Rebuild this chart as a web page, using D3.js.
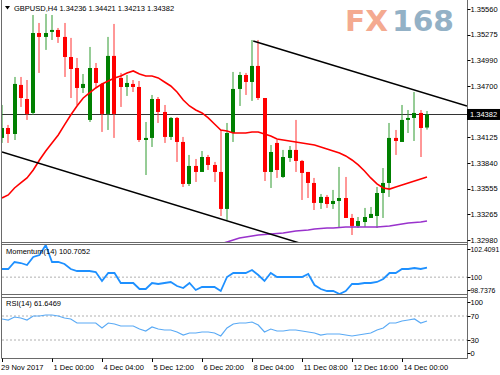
<!DOCTYPE html>
<html>
<head>
<meta charset="utf-8">
<script src="https://cdn.jsdelivr.net/npm/d3@7"></script>
<style>
  html, body { margin: 0; padding: 0; background: #fff; }
  svg { display: block; font-family: "Liberation Sans", Arial, sans-serif; }
</style>
</head>
<body>
<div id="chart"></div>
<script>
// GBPUSD H4 – OHLC, bar 0 = 29 Nov 16:00
const openP  = [1.34120,1.34231,1.34164,1.34712,1.34555,1.34399,1.35292,1.35248,1.35304,1.35326,
                1.35248,1.35024,1.34901,1.34678,1.34321,1.34901,1.34723,1.34388,1.35036,1.34790,
                1.34689,1.34723,1.34689,1.34097,1.34120,1.34555,1.34410,1.34131,1.34343,1.34075,
                1.33606,1.33807,1.33740,1.33907,1.33818,1.33740,1.33327,1.34175,1.34667,1.34823,
                1.34745,1.34924,1.34566,1.33740,1.34064,1.33684,1.33896,1.33986,1.33863,1.33740,
                1.33617,1.33394,1.33461,1.33382,1.33416,1.33449,1.33226,1.33137,1.33181,1.33226,
                1.33248,1.33505,1.33617,1.34120,1.34075,1.34321,1.34343,1.34399,1.34236];
const highP  = [1.34488,1.34265,1.34801,1.34801,1.34767,1.35493,1.35404,1.35505,1.35493,1.35348,
                1.35404,1.35237,1.35013,1.34834,1.35136,1.34957,1.34734,1.35248,1.35393,1.34846,
                1.34823,1.34767,1.34756,1.34298,1.34600,1.34577,1.34488,1.34354,1.34354,1.34131,
                1.33930,1.33885,1.33974,1.33930,1.33852,1.34209,1.34287,1.34857,1.34857,1.34846,
                1.35214,1.35214,1.34566,1.34041,1.34097,1.33986,1.34030,1.34321,1.33874,1.33740,
                1.33673,1.33494,1.33483,1.33539,1.33796,1.33684,1.33271,1.33237,1.33338,1.33349,
                1.33572,1.33784,1.34287,1.34209,1.34488,1.34432,1.34633,1.34432,1.34421];
const lowP   = [1.34064,1.34064,1.34097,1.34466,1.34321,1.34376,1.34846,1.35103,1.35214,1.35181,
                1.34801,1.34566,1.34488,1.34622,1.34298,1.34678,1.34187,1.34209,1.34120,1.34466,
                1.34589,1.34633,1.34075,1.33706,1.34019,1.34287,1.34064,1.34097,1.33852,1.33572,
                1.33583,1.33628,1.33740,1.33762,1.33628,1.33248,1.33204,1.34075,1.34477,1.34600,
                1.34533,1.34544,1.33639,1.33561,1.33673,1.33673,1.33852,1.33740,1.33427,1.33449,
                1.33315,1.33327,1.33338,1.33327,1.33114,1.33226,1.33036,1.33114,1.33125,1.33226,
                1.33114,1.33226,1.33461,1.33930,1.34075,1.34175,1.34086,1.33907,1.34213];
const closeP = [1.34231,1.34164,1.34723,1.34566,1.34388,1.35292,1.35248,1.35292,1.35326,1.35248,
                1.35024,1.34890,1.34678,1.34723,1.34901,1.34734,1.34388,1.35036,1.34388,1.34689,
                1.34734,1.34689,1.34097,1.34120,1.34555,1.34410,1.34131,1.34343,1.34075,1.33606,
                1.33807,1.33740,1.33907,1.33818,1.33740,1.33327,1.34175,1.34667,1.34823,1.34745,
                1.34924,1.34566,1.33740,1.33963,1.33762,1.33907,1.33986,1.33863,1.33729,1.33617,
                1.33394,1.33461,1.33382,1.33416,1.33449,1.33226,1.33137,1.33192,1.33237,1.33271,
                1.33505,1.33617,1.34120,1.34086,1.34321,1.34343,1.34399,1.34231,1.34382];

// fast (red) and slow (purple) moving averages
const maFast = [1.33449,1.33483,1.33561,1.33617,1.33673,1.33762,1.33874,1.33974,1.34064,1.34153,
                1.34265,1.34376,1.34477,1.34566,1.34622,1.34678,1.34723,1.34756,1.34790,1.34812,
                1.34846,1.34868,1.34834,1.34812,1.34812,1.34790,1.34745,1.34700,1.34633,1.34544,
                1.34477,1.34432,1.34399,1.34343,1.34276,1.34209,1.34198,1.34175,1.34175,1.34175,
                1.34187,1.34187,1.34164,1.34142,1.34108,1.34097,1.34086,1.34075,1.34064,1.34053,
                1.34041,1.34019,1.33997,1.33974,1.33952,1.33919,1.33874,1.33818,1.33751,1.33673,
                1.33606,1.33561,1.33549,1.33572,1.33594,1.33617,1.33639,1.33662,1.33684];
const maSlowStart = 35;
const maSlow = [1.32936,1.32958,1.32980,1.33003,1.33014,1.33025,1.33036,1.33042,1.33047,1.33053,
                1.33058,1.33070,1.33081,1.33086,1.33092,1.33103,1.33109,1.33114,1.33114,1.33120,
                1.33125,1.33125,1.33125,1.33125,1.33125,1.33125,1.33131,1.33137,1.33148,1.33159,
                1.33170,1.33176,1.33181,1.33192];

// trend lines (bar index, price)
const upperTrend = [[40.2, 1.35203], [74.4, 1.34477]];
const lowerTrend = [[0, 1.33963], [48, 1.32938]];

const momentum = [100.611,100.611,101.135,101.060,100.910,101.510,101.660,102.409,101.135,101.135,
                  100.985,100.611,100.461,100.461,100.461,100.386,99.712,100.311,100.311,99.562,
                  99.562,99.562,99.112,99.112,99.562,99.487,99.562,99.637,99.337,99.187,
                  99.562,99.037,99.262,99.262,99.262,98.962,100.011,100.311,100.311,100.311,
                  100.536,100.161,99.712,100.311,100.011,100.011,100.011,100.011,100.011,100.236,
                  99.412,99.112,98.962,98.962,98.738,98.962,99.487,99.487,99.562,99.562,
                  99.637,99.862,100.311,100.311,100.611,100.611,100.686,100.611,100.7052];
const rsi = [65.0,63.3,68.3,66.7,63.3,70.0,70.0,71.7,71.7,70.0,
             66.7,65.0,58.3,58.3,58.3,58.3,50.0,58.3,56.7,53.3,
             53.3,53.3,48.3,45.0,51.7,48.3,46.7,46.7,43.3,38.3,
             41.7,41.7,43.3,43.3,41.7,36.7,50.0,56.7,58.3,58.3,
             60.0,55.0,43.3,48.3,45.0,45.0,46.7,46.7,45.0,43.3,
             41.7,38.3,40.0,40.0,40.0,38.3,36.7,38.3,40.0,41.7,
             46.7,50.0,58.3,58.3,61.7,63.3,65.0,58.3,61.6469];

const priceTicks = [1.35560,1.35275,1.34990,1.34700,1.34415,1.34125,1.33840,1.33555,1.33265,1.32980];
const momTicks = [102.4091, 100, 98.7376];
const rsiTicks = [100, 70, 30, 0];
const timeLabels = ['29 Nov 2017','1 Dec 00:00','4 Dec 04:00','5 Dec 12:00','6 Dec 20:00',
                    '8 Dec 04:00','11 Dec 08:00','12 Dec 16:00','14 Dec 00:00'];
const lastPrice = 1.34382;

/* ─── scaffold ───────────────────────────────────────────── */
const svg = d3.select('#chart').append('svg').attr('width', 500).attr('height', 375);
const L = 2, R = 467;
const x = d3.scaleLinear().domain([0, 74.4]).range([L, R]);
const y = d3.scaleLinear().domain([1.32980, 1.35560]).range([240, 9]);
const yMom = d3.scaleLinear().domain([98.7376, 102.4091]).range([294, 245]);
const yRsi = d3.scaleLinear().domain([0, 100]).range([358, 298]);

const defs = svg.append('defs');
[['clipMain', 0, 242], ['clipMom', 245, 294], ['clipRsi', 298, 358]].forEach(([id, y0, y1]) => {
  defs.append('clipPath').attr('id', id).append('rect')
    .attr('x', L).attr('y', y0).attr('width', R - L).attr('height', y1 - y0);
});

/* ─── watermark ──────────────────────────────────────────── */
const wm = svg.append('g').attr('font-family', '"DejaVu Sans", sans-serif').attr('font-weight', 'bold')
  .attr('font-size', 29);
wm.append('text').attr('x', 345).attr('y', 31).attr('fill', '#f4aa90')
  .attr('textLength', 43).attr('lengthAdjust', 'spacingAndGlyphs').text('FX');
wm.append('text').attr('x', 392).attr('y', 31).attr('fill', '#93b1c6')
  .attr('textLength', 62).attr('lengthAdjust', 'spacingAndGlyphs').text('168');

/* ─── main pane ──────────────────────────────────────────── */
const main = svg.append('g').attr('clip-path', 'url(#clipMain)');
const bars = d3.range(closeP.length);
const up = i => closeP[i] >= openP[i];

main.append('line')
  .attr('x1', L).attr('x2', R)
  .attr('y1', Math.round(y(lastPrice)) + 0.5).attr('y2', Math.round(y(lastPrice)) + 0.5)
  .attr('stroke', '#333').attr('stroke-width', 1);

main.append('g').selectAll('line').data(bars).join('line')
  .attr('x1', i => Math.round(x(i))).attr('x2', i => Math.round(x(i)))
  .attr('y1', i => y(highP[i])).attr('y2', i => y(lowP[i]))
  .attr('stroke', i => up(i) ? '#2e9a2e' : '#ff3030').attr('stroke-width', 1);

main.append('g').selectAll('rect').data(bars).join('rect')
  .attr('x', i => Math.round(x(i)) - 2)
  .attr('width', 4)
  .attr('y', i => y(Math.max(openP[i], closeP[i])))
  .attr('height', i => Math.max(1.2, Math.abs(y(openP[i]) - y(closeP[i]))))
  .attr('fill', i => up(i) ? '#008000' : '#ff0000');

const line = d3.line().x(d => x(d[0])).y(d => y(d[1]));
main.append('path').datum(maFast.map((v, i) => [i, v]))
  .attr('d', line).attr('fill', 'none').attr('stroke', '#ff0000').attr('stroke-width', 1.6);
main.append('path').datum(maSlow.map((v, i) => [i + maSlowStart, v]))
  .attr('d', line).attr('fill', 'none').attr('stroke', '#9932cc').attr('stroke-width', 1.6);
[upperTrend, lowerTrend].forEach(t => {
  main.append('path').datum(t).attr('d', line)
    .attr('fill', 'none').attr('stroke', '#000').attr('stroke-width', 1.5);
});

/* ─── momentum pane ─────────────────────────────────────── */
const mom = svg.append('g').attr('clip-path', 'url(#clipMom)');
mom.append('line').attr('x1', L).attr('x2', R)
  .attr('y1', yMom(100)).attr('y2', yMom(100))
  .attr('stroke', '#b0b0b0').attr('stroke-dasharray', '2,2');
mom.append('path').datum(momentum.map((v, i) => [i, v]))
  .attr('d', d3.line().x(d => x(d[0])).y(d => yMom(d[1])))
  .attr('fill', 'none').attr('stroke', '#1e90ff').attr('stroke-width', 1.8);

/* ─── RSI pane ──────────────────────────────────────────── */
const rs = svg.append('g').attr('clip-path', 'url(#clipRsi)');
[70, 30].forEach(v => {
  rs.append('line').attr('x1', L).attr('x2', R)
    .attr('y1', yRsi(v)).attr('y2', yRsi(v))
    .attr('stroke', '#b0b0b0').attr('stroke-dasharray', '2,2');
});
rs.append('path').datum(rsi.map((v, i) => [i, v]))
  .attr('d', d3.line().x(d => x(d[0])).y(d => yRsi(d[1])))
  .attr('fill', 'none').attr('stroke', '#5aaaf5').attr('stroke-width', 1.2);

/* ─── frames ────────────────────────────────────────────── */
const frame = svg.append('g').attr('stroke', '#6a6a6a').attr('stroke-width', 1).attr('fill', 'none');
[242.5, 244.5, 294.5, 297.5, 358.5].forEach(v => {
  frame.append('line').attr('x1', 1.5).attr('x2', R + 0.5).attr('y1', v).attr('y2', v);
});
frame.append('line').attr('x1', 1.5).attr('x2', 1.5).attr('y1', 0).attr('y2', 358.5);
frame.append('line').attr('x1', R + 0.5).attr('x2', R + 0.5).attr('y1', 0).attr('y2', 358.5);

/* ─── right axes ───────────────────────────────────────── */
const axisG = svg.append('g').attr('font-size', 7.5).attr('fill', '#000');
function sideLabels(ticks, scale, fmt, clampTop, clampBot, size) {
  ticks.forEach(v => {
    const yy = Math.min(clampBot, Math.max(clampTop, scale(v)));
    axisG.append('line').attr('x1', R + 0.5).attr('x2', R + 3.5)
      .attr('y1', Math.round(yy) + 0.5).attr('y2', Math.round(yy) + 0.5)
      .attr('stroke', '#000');
    axisG.append('text').attr('x', 470.5).attr('y', yy + 2.7)
      .attr('font-size', size).text(fmt(v));
  });
}
sideLabels(priceTicks, y, v => v.toFixed(5), 0, 999, 7.5);
sideLabels(momTicks, yMom, v => (v === 100 ? '100' : v.toFixed(4)), 249, 290, 6.9);
sideLabels(rsiTicks, yRsi, v => String(v), 302, 353, 7.5);

// current price box
const py = y(lastPrice);
axisG.append('rect').attr('x', R).attr('y', py - 5.5).attr('width', 33).attr('height', 11).attr('fill', '#000');
axisG.append('text').attr('x', 470).attr('y', py + 2.7).attr('fill', '#fff').text(lastPrice.toFixed(5));

/* ─── time axis ─────────────────────────────────────────── */
const timeG = svg.append('g').attr('font-size', 7.5);
timeLabels.forEach((t, k) => {
  const xx = Math.round(x(k * 8)) + 0.5;
  timeG.append('line').attr('x1', xx).attr('x2', xx).attr('y1', 358.5).attr('y2', 362)
    .attr('stroke', '#000');
  timeG.append('text').attr('x', k === 0 ? 1 : xx + 1).attr('y', 370).text(t);
});

/* ─── pane titles ──────────────────────────────────────── */
const titles = svg.append('g').attr('font-size', 7.5);
titles.append('path').attr('d', 'M5,6 L10,6 L7.5,9.5 Z').attr('fill', '#000');
titles.append('text').attr('x', 14).attr('y', 11)
  .text('GBPUSD,H4  ' + [openP, highP, lowP, closeP].map(a => a[a.length - 1].toFixed(5)).join(' '));
titles.append('text').attr('x', 6).attr('y', 254)
  .text('Momentum(14) ' + momentum[momentum.length - 1].toFixed(4));
titles.append('text').attr('x', 6).attr('y', 306)
  .text('RSI(14) ' + rsi[rsi.length - 1].toFixed(4));
</script>
</body>
</html>
